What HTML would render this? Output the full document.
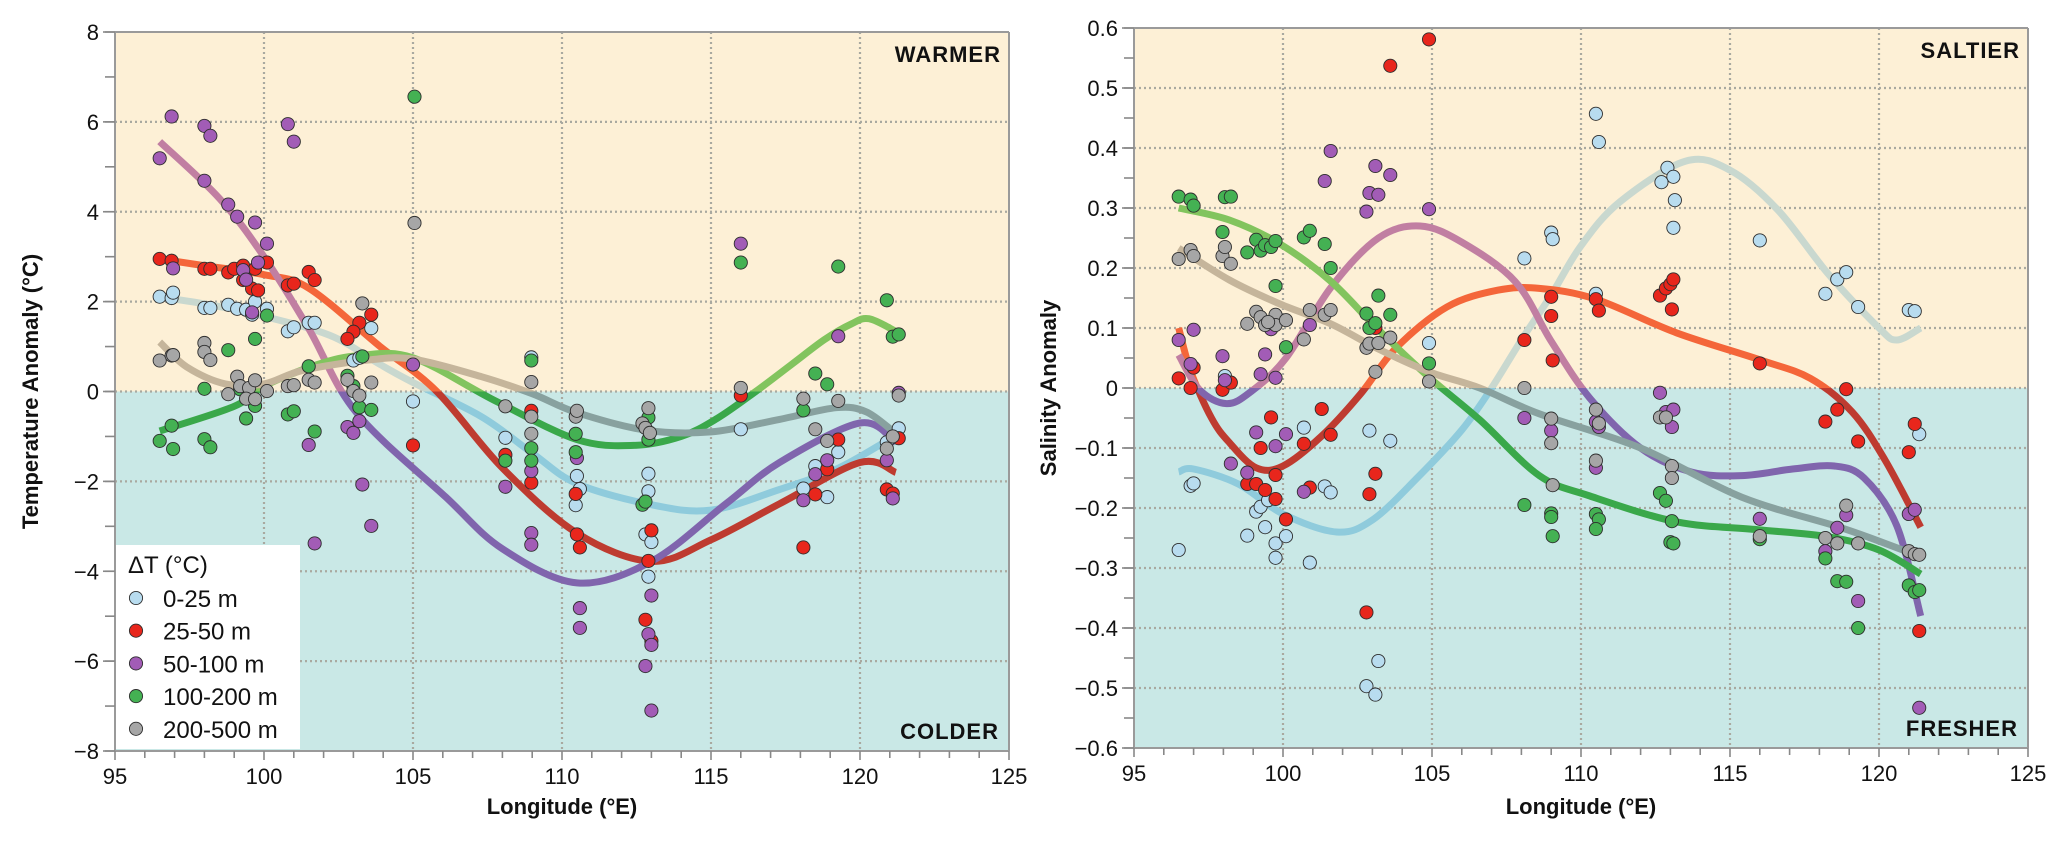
<!DOCTYPE html>
<html><head><meta charset="utf-8"><style>
html,body{margin:0;padding:0;background:#fff;}
svg{display:block;font-family:"Liberation Sans",Arial,sans-serif;}
</style></head><body>
<svg id="fig" width="2067" height="843" viewBox="0 0 2067 843" xmlns="http://www.w3.org/2000/svg"></svg>
<script>
// ---------- Temperature chart data ----------
const tLon0=[96.5,96.9,96.95,98.0,98.2,98.8,99.1,99.4,99.6,99.7,100.1,100.8,101.0,101.5,101.7,103.6,103.0,103.2,105.0,108.1,108.97,110.5,110.6,110.46,112.9,112.9,112.8,113.0,112.9,116,118.1,118.5,118.9,119.27,120.9,121.3];
const tVal0=[2.11,2.08,2.2,1.86,1.86,1.93,1.84,1.82,1.71,2.0,1.84,1.34,1.43,1.53,1.53,1.41,0.69,0.75,-0.22,-1.03,0.76,-1.88,-2.17,-2.53,-1.83,-2.22,-3.18,-3.35,-4.12,-0.84,-2.16,-1.66,-2.35,-1.35,-1.13,-0.82];
const tLon1=[96.5,96.9,98.0,98.2,98.8,99.0,99.3,99.7,100.1,99.3,99.6,99.8,100.8,101.0,101.5,101.7,103.6,103.2,103.0,102.8,105.0,108.1,108.97,108.97,110.46,110.5,110.6,113.0,112.9,112.8,113.0,116,118.1,118.9,118.5,119.27,121.3,120.9,121.1];
const tVal1=[2.95,2.91,2.73,2.73,2.65,2.73,2.8,2.73,2.87,2.48,2.29,2.25,2.36,2.4,2.66,2.48,1.71,1.53,1.33,1.17,-1.2,-1.41,-0.43,-2.03,-2.28,-3.18,-3.47,-3.09,-3.77,-5.08,-5.55,-0.09,-3.47,-1.73,-2.29,-1.07,-1.04,-2.18,-2.27];
const tLon2=[96.9,96.5,98.0,98.2,98.0,98.8,99.1,99.7,100.1,99.8,99.3,99.4,99.6,96.95,100.8,101.0,105.0,101.5,101.7,103.3,103.6,102.8,103.0,103.2,108.1,108.97,108.97,108.97,110.5,110.6,110.6,113.0,112.9,113.0,112.8,113.0,116,118.9,118.5,118.1,119.27,121.3,120.9,121.1];
const tVal2=[6.12,5.19,5.91,5.69,4.69,4.16,3.89,3.76,3.29,2.87,2.70,2.49,1.76,2.74,5.95,5.56,0.6,-1.19,-3.38,-2.07,-2.99,-0.79,-0.92,-0.66,-2.12,-1.77,-3.15,-3.41,-1.48,-4.82,-5.26,-4.54,-5.4,-5.64,-6.11,-7.1,3.29,-1.53,-1.84,-2.42,1.23,-0.03,-1.53,-2.38];
const tLon3=[100.1,99.7,98.8,101.5,98.0,99.2,99.7,100.8,101.0,99.4,103.3,102.8,103.0,96.9,96.5,96.95,98.0,98.2,101.7,103.2,103.6,105.05,108.1,108.97,108.97,108.97,110.46,110.46,112.9,112.9,112.7,112.8,116,119.27,120.9,121.1,121.3,118.5,118.9,118.1];
const tVal3=[1.69,1.17,0.92,0.56,0.06,0.05,-0.32,-0.51,-0.44,-0.6,0.78,0.35,0.12,-0.76,-1.1,-1.28,-1.06,-1.24,-0.89,-0.35,-0.41,6.56,-1.54,0.69,-1.26,-1.54,-0.94,-1.35,-0.58,-1.07,-2.52,-2.45,2.87,2.78,2.03,1.22,1.27,0.4,0.16,-0.42];
const tLon4=[96.5,96.9,96.95,98.0,98.0,98.2,99.1,98.8,99.2,99.5,99.7,99.4,99.7,100.1,100.8,101.0,101.5,101.7,103.3,102.8,103.0,103.2,103.6,105.05,108.1,108.97,108.97,108.97,110.46,110.5,112.9,112.7,112.8,112.95,116,118.1,119.27,118.5,118.9,121.3,121.1,120.9];
const tVal4=[0.69,0.8,0.81,1.08,0.88,0.7,0.33,-0.06,0.12,0.08,0.25,-0.16,-0.17,0.01,0.12,0.14,0.26,0.2,1.96,0.26,0.01,-0.09,0.2,3.75,-0.33,0.21,-0.56,-0.94,-0.56,-0.43,-0.37,-0.71,-0.81,-0.92,0.08,-0.16,-0.21,-0.84,-1.1,-0.09,-1.0,-1.27];
// fitted curves (temperature)
const tcLon0=[96.5,98,99.7,102.2,103.9,105,107.3,109,110.5,113,115,117.3,119.2,120.9,121.3];
const tcVal0=[2.1,1.95,1.72,1.25,0.6,0.2,-0.56,-1.37,-2.05,-2.52,-2.64,-2.18,-1.73,-1.1,-0.95];
const tcLon1=[96.5,98,100,101.5,103.9,105.8,108,110.5,113,115,117.3,120,121.2];
const tcVal1=[2.95,2.8,2.6,2.3,1.0,0,-1.7,-3.15,-3.78,-3.3,-2.5,-1.58,-1.8];
const tcLon2=[96.5,98.5,100,101.5,103.1,106.1,108,110.5,113,115.5,117.3,120,121.2];
const tcVal2=[5.56,4.3,3.0,1.4,-0.47,-2.35,-3.5,-4.26,-3.78,-2.5,-1.58,-0.7,-1.13];
const tcLon3=[96.5,99,100,101.8,103.2,105,107.8,110.5,112.4,114,115.2,116.5,117.7,118.8,119.7,120.3,121.2];
const tcVal3=[-0.88,-0.33,0.12,0.6,0.8,0.75,-0.22,-1.07,-1.2,-1.0,-0.6,0.0,0.6,1.15,1.5,1.62,1.34];
const tcLon4=[96.5,97.4,98.7,100,101.3,103.5,105,107.3,109,110.5,112.8,115,117.3,119.2,120.2,121.1];
const tcVal4=[1.1,0.55,0.17,0.17,0.47,0.7,0.72,0.33,-0.05,-0.47,-0.86,-0.9,-0.62,-0.36,-0.45,-0.88];

// ---------- Salinity chart data ----------
const sLon0=[98.05,104.9,108.1,100.7,102.9,103.6,96.9,97.0,101.4,101.6,99.1,99.25,99.5,96.5,98.8,99.4,99.75,100.1,99.75,100.9,103.2,102.8,103.1,109.0,109.05,110.5,110.6,112.9,113.1,112.7,113.15,113.1,110.5,116.0,118.2,118.6,118.9,119.3,121.0,121.2,121.35];
const sVal0=[0.02,0.075,0.216,-0.066,-0.071,-0.088,-0.163,-0.159,-0.164,-0.174,-0.206,-0.198,-0.187,-0.27,-0.246,-0.232,-0.259,-0.247,-0.283,-0.291,-0.455,-0.497,-0.511,0.259,0.248,0.457,0.41,0.367,0.352,0.343,0.313,0.267,0.157,0.246,0.157,0.181,0.193,0.135,0.13,0.128,-0.077];
const sLon1=[96.5,96.9,97.0,97.97,98.25,103.6,104.9,103.1,101.3,99.6,99.25,100.7,101.6,99.75,98.8,99.1,99.4,99.75,100.1,100.9,103.1,102.9,102.8,109.0,109.0,109.05,110.5,110.6,112.65,112.85,113.0,113.1,113.05,116.0,118.9,118.6,118.2,119.3,121.2,121.0,121.35,108.1];
const sVal1=[0.016,0.0,0.034,-0.003,0.009,0.537,0.581,0.1,-0.035,-0.049,-0.1,-0.093,-0.078,-0.145,-0.16,-0.16,-0.17,-0.185,-0.219,-0.166,-0.143,-0.177,-0.374,0.152,0.12,0.046,0.148,0.129,0.154,0.166,0.173,0.181,0.131,0.041,-0.002,-0.036,-0.056,-0.089,-0.06,-0.107,-0.405,0.08];
const sLon2=[96.5,97.0,96.9,97.97,98.05,99.4,99.25,99.6,99.75,100.9,101.4,101.6,102.8,102.9,103.2,103.1,103.6,104.9,99.1,100.1,99.75,98.25,98.8,100.7,109.0,110.5,110.6,110.5,112.65,112.85,113.1,113.05,116.0,118.2,118.6,118.9,119.3,121.0,121.2,121.35,108.1];
const sVal2=[0.08,0.097,0.04,0.053,0.013,0.056,0.023,0.098,0.017,0.105,0.345,0.395,0.294,0.325,0.322,0.37,0.355,0.298,-0.074,-0.077,-0.097,-0.126,-0.141,-0.173,-0.071,-0.056,-0.065,-0.133,-0.008,-0.04,-0.036,-0.065,-0.218,-0.272,-0.233,-0.212,-0.355,-0.21,-0.203,-0.533,-0.05];
const sLon3=[96.5,96.9,97.0,98.05,98.25,97.97,98.8,99.1,99.25,99.4,99.6,99.75,99.75,100.1,100.7,100.9,101.4,101.6,102.8,103.2,103.6,102.9,103.1,104.9,108.1,109.0,109.0,109.05,110.5,110.6,110.5,112.65,112.85,113.05,113.0,113.1,116.0,118.2,118.6,118.9,119.3,121.0,121.2,121.35];
const sVal3=[0.319,0.314,0.304,0.318,0.319,0.26,0.226,0.247,0.229,0.238,0.235,0.245,0.17,0.068,0.251,0.262,0.24,0.2,0.124,0.154,0.122,0.1,0.108,0.041,-0.195,-0.209,-0.215,-0.247,-0.21,-0.219,-0.235,-0.175,-0.188,-0.222,-0.257,-0.259,-0.252,-0.284,-0.322,-0.323,-0.4,-0.329,-0.34,-0.337];
const sLon4=[96.5,96.9,97.0,97.97,98.05,98.25,98.8,99.1,99.25,99.4,99.75,99.75,99.5,100.1,100.7,100.9,101.4,101.6,102.8,102.9,103.2,103.6,103.1,104.9,108.1,109.0,109.0,109.05,110.5,110.6,110.5,112.65,112.85,113.05,113.05,116.0,118.2,118.6,118.9,119.3,121.0,121.2,121.35];
const sVal4=[0.215,0.23,0.22,0.22,0.235,0.207,0.107,0.127,0.118,0.105,0.122,0.105,0.11,0.113,0.081,0.13,0.122,0.13,0.067,0.074,0.075,0.084,0.027,0.011,0.0,-0.051,-0.092,-0.162,-0.036,-0.059,-0.121,-0.049,-0.049,-0.13,-0.15,-0.247,-0.25,-0.259,-0.196,-0.259,-0.272,-0.277,-0.278];
// fitted curves (salinity)
const scLon0=[96.5,97,98.5,100,101.8,103,104.5,106,107,108,109,110,111.3,113.5,115,116.6,118.3,120,120.6,121.4];
const scVal0=[-0.14,-0.135,-0.16,-0.21,-0.24,-0.22,-0.15,-0.07,0.0,0.08,0.155,0.237,0.31,0.378,0.363,0.297,0.19,0.1,0.08,0.1];
const scLon1=[96.5,96.9,97.6,98.2,99.1,100,101.3,102.6,103.8,105.5,107.2,108.6,110.5,113.2,116,117.7,119.1,120.2,121.4];
const scVal1=[0.1,0.028,-0.05,-0.091,-0.133,-0.13,-0.08,-0.01,0.067,0.135,0.163,0.166,0.148,0.092,0.047,0.016,-0.04,-0.12,-0.232];
const scLon2=[96.5,97.2,98.1,98.9,100.1,101.6,103.2,104.6,106.0,107.8,109.0,110.3,112.0,113.7,115.4,117.1,118.5,119.5,120.6,121.4];
const scVal2=[0.055,-0.003,-0.026,-0.007,0.05,0.167,0.25,0.27,0.243,0.177,0.078,-0.017,-0.1,-0.14,-0.146,-0.135,-0.13,-0.15,-0.23,-0.38];
const scLon3=[96.5,98.2,99.9,101.6,103.2,104.9,106.6,108.6,110.3,113.2,115.9,118.3,120,121.4];
const scVal3=[0.3,0.28,0.24,0.178,0.097,0.018,-0.053,-0.146,-0.18,-0.223,-0.236,-0.248,-0.27,-0.31];
const scLon4=[96.5,98.2,99.9,101.6,103.2,104.9,106.6,108.6,112,115.4,118.8,120.9];
const scVal4=[0.233,0.18,0.14,0.107,0.065,0.027,0.0,-0.043,-0.1,-0.182,-0.234,-0.272];

const seriesNames=['0-25 m','25-50 m','50-100 m','100-200 m','200-500 m'];
const dotColors=['#b8dcef','#e8261c','#a25cb6','#44b153','#a6a6a6'];
const curveWarm=['#c9d8cf','#f4663a','#c17fa2','#82c45e','#c5b59b'];
const curveCold=['#8fcbdc','#be3b30','#8065ad','#3aa84a','#88a19f'];

const NS='http://www.w3.org/2000/svg';
const svg=document.getElementById('fig');
function mk(tag,attrs,parent){const e=document.createElementNS(NS,tag);for(const k in attrs)e.setAttribute(k,attrs[k]);(parent||svg).appendChild(e);return e;}
function fmt(v,dec){if(Math.abs(v)<1e-9)return '0';const s=Math.abs(v).toFixed(dec);return (v<0?'\u2212':'')+s;}

function catmull(pts){
  let d='M'+pts[0][0].toFixed(1)+','+pts[0][1].toFixed(1);
  for(let i=0;i<pts.length-1;i++){
    const p0=pts[i-1]||pts[i],p1=pts[i],p2=pts[i+1],p3=pts[i+2]||p2;
    const c1=[p1[0]+(p2[0]-p0[0])/6,p1[1]+(p2[1]-p0[1])/6];
    const c2=[p2[0]-(p3[0]-p1[0])/6,p2[1]-(p3[1]-p1[1])/6];
    d+=' C'+c1[0].toFixed(1)+','+c1[1].toFixed(1)+' '+c2[0].toFixed(1)+','+c2[1].toFixed(1)+' '+p2[0].toFixed(1)+','+p2[1].toFixed(1);
  }
  return d;
}

function drawChart(c){
  const X=l=>c.x0+(l-95)*(c.x1-c.x0)/30;
  const Y=v=>c.yT+(c.ymax-v)*(c.yB-c.yT)/(c.ymax-c.ymin);
  const g=mk('g',{});
  
  
  const y0=Y(0);
  const warm=mk('rect',{x:c.x0,y:c.yT,width:c.x1-c.x0,height:y0-c.yT,fill:'#fdf0d6'},g);
  
  
  const cold=mk('rect',{x:c.x0,y:y0,width:c.x1-c.x0,height:c.yB-y0,fill:'#c9e8e6'},g);
  
  
  for(let l=100;l<125;l+=5){const ln=mk('line',{x1:X(l),x2:X(l),y1:c.yT,y2:c.yB,stroke:'#a9a9a0','stroke-width':2.2,'stroke-dasharray':'2 3'},g);
    }
  c.major.forEach(v=>{if(v===c.ymin||v===c.ymax)return;const ln=mk('line',{x1:c.x0,x2:c.x1,y1:Y(v),y2:Y(v),stroke:'#a9a9a0','stroke-width':2.2,'stroke-dasharray':'2 3'},g);
    });
  mk('line',{x1:c.x0,x2:c.x1,y1:c.yT,y2:c.yT,stroke:'#9a9a9a','stroke-width':2},g);
  mk('line',{x1:c.x1,x2:c.x1,y1:c.yT,y2:c.yB,stroke:'#9a9a9a','stroke-width':2},g);
  mk('line',{x1:c.x0,x2:c.x0,y1:c.yT,y2:c.yB,stroke:'#9a9a9a','stroke-width':2},g);
  mk('line',{x1:c.x0,x2:c.x1,y1:c.yB,y2:c.yB,stroke:'#9a9a9a','stroke-width':2},g);
  const defs=mk('defs',{},g);
  const ca=mk('clipPath',{id:c.id+'-above'},defs);mk('rect',{x:c.x0,y:c.yT,width:c.x1-c.x0,height:y0-c.yT},ca);
  const cb=mk('clipPath',{id:c.id+'-below'},defs);mk('rect',{x:c.x0,y:y0,width:c.x1-c.x0,height:c.yB-y0},cb);
  c.curves.forEach((cv,i)=>{
    const pts=cv[0].map((l,j)=>[X(l),Y(cv[1][j])]);
    const d=catmull(pts);
    const a=mk('path',{d:d,fill:'none',stroke:curveWarm[i],'stroke-width':7,'clip-path':'url(#'+c.id+'-above)'},g);
    
    
    const b=mk('path',{d:d,fill:'none',stroke:curveCold[i],'stroke-width':7,'clip-path':'url(#'+c.id+'-below)'},g);
    
    
  });
  c.points.forEach((s,i)=>{
    s[0].forEach((l,j)=>{
      const p=mk('circle',{cx:X(l),cy:Y(s[1][j]),r:6.6,fill:dotColors[i],stroke:'#2e2e2e','stroke-width':0.9},g);
      
      
    });
  });
  for(let l=95;l<=125;l++){const big=(l%5===0);mk('line',{x1:X(l),x2:X(l),y1:c.yB,y2:c.yB+(big?9:7),stroke:'#888','stroke-width':1.6},g);}
  for(let l=95;l<=125;l+=5){const t=mk('text',{x:X(l),y:c.yB+33,'font-size':22,'text-anchor':'middle',fill:'#111'},g);t.textContent=l;
    }
  for(let v=c.ymin;v<=c.ymax+1e-9;v+=c.minor){mk('line',{x1:c.x0-10,x2:c.x0,y1:Y(v),y2:Y(v),stroke:'#888','stroke-width':1.6},g);}
  c.major.forEach(v=>{mk('line',{x1:c.x0-12,x2:c.x0,y1:Y(v),y2:Y(v),stroke:'#888','stroke-width':1.6},g);
    const t=mk('text',{x:c.x0-16,y:Y(v)+8,'font-size':22,'text-anchor':'end',fill:'#111'},g);t.textContent=fmt(v,c.dec);
    });
  const xt=mk('text',{x:(c.x0+c.x1)/2,y:814,'font-size':22,'font-weight':'bold','text-anchor':'middle',fill:'#111'},g);
  xt.textContent='Longitude (\u00B0E)';
  
  const yt=mk('text',{x:0,y:0,'font-size':22,'font-weight':'bold','text-anchor':'middle',fill:'#111',transform:'translate('+c.ytx+','+((c.yT+c.yB)/2)+') rotate(-90)'},g);
  yt.textContent=c.ytitle;
  
  const hi=mk('text',{x:c.x1-8,y:c.yT+30,'font-size':22,'font-weight':'bold','text-anchor':'end',fill:'#111','letter-spacing':1},g);
  hi.textContent=c.hi;
  const lo=mk('text',{x:c.x1-10,y:c.yB-12,'font-size':22,'font-weight':'bold','text-anchor':'end',fill:'#111','letter-spacing':1},g);
  lo.textContent=c.lo;
  return {X,Y};
}

drawChart({id:'temperature',x0:115,x1:1009,yT:32,yB:751,ymin:-8,ymax:8,major:[-8,-6,-4,-2,0,2,4,6,8],minor:1,dec:0,
  ytx:38,ytitle:'Temperature Anomaly (\u00B0C)',hi:'WARMER',lo:'COLDER',
  curves:[[tcLon0,tcVal0],[tcLon1,tcVal1],[tcLon2,tcVal2],[tcLon3,tcVal3],[tcLon4,tcVal4]],
  points:[[tLon0,tVal0],[tLon1,tVal1],[tLon2,tVal2],[tLon3,tVal3],[tLon4,tVal4]]});
drawChart({id:'salinity',x0:1134,x1:2028,yT:28,yB:748,ymin:-0.6,ymax:0.6,major:[-0.6,-0.5,-0.4,-0.3,-0.2,-0.1,0,0.1,0.2,0.3,0.4,0.5,0.6],minor:0.05,dec:1,
  ytx:1056,ytitle:'Salinity Anomaly',hi:'SALTIER',lo:'FRESHER',
  curves:[[scLon0,scVal0],[scLon1,scVal1],[scLon2,scVal2],[scLon3,scVal3],[scLon4,scVal4]],
  points:[[sLon0,sVal0],[sLon1,sVal1],[sLon2,sVal2],[sLon3,sVal3],[sLon4,sVal4]]});

const lg=mk('g',{});


mk('rect',{x:116,y:545,width:184,height:204,fill:'#ffffff'},lg);
const lt=mk('text',{x:128,y:573,'font-size':24,fill:'#111'},lg);
lt.textContent='\u0394T  (\u00B0C)';


seriesNames.forEach((n,i)=>{
  const cy=598+i*32.7;
  const c=mk('circle',{cx:136,cy:cy,r:6.6,fill:dotColors[i],stroke:'#2e2e2e','stroke-width':0.9},lg);
  
  
  const t=mk('text',{x:163,y:cy+9,'font-size':24,fill:'#111'},lg);
  t.textContent=n;
  
  
});
</script>
</body></html>
